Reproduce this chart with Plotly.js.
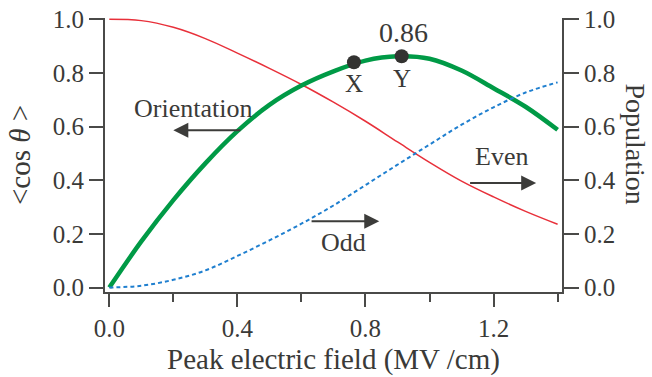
<!DOCTYPE html>
<html>
<head>
<meta charset="utf-8">
<script src="https://cdn.plot.ly/plotly-3.0.1.min.js"></script>
<style>
html,body{margin:0;padding:0;background:#fff;}
#chart{width:652px;height:377px;}
</style>
</head>
<body>
<div id="chart"></div>
<script>
// Peak electric field (MV/cm)
const field = [0.0, 0.1, 0.2, 0.3, 0.4, 0.5, 0.6, 0.7, 0.8, 0.9, 1.0, 1.1, 1.2, 1.3, 1.4];
// <cos theta> (orientation) - red
const orientation = [1.000, 0.995, 0.970, 0.928, 0.874, 0.817, 0.757, 0.691, 0.620, 0.543, 0.467, 0.397, 0.338, 0.284, 0.236];
// green thick curve
const green = [0.000, 0.172, 0.326, 0.463, 0.583, 0.681, 0.753, 0.806, 0.846, 0.862, 0.853, 0.809, 0.743, 0.674, 0.588];
// Odd population - blue dotted
const odd = [0.000, 0.007, 0.029, 0.064, 0.118, 0.176, 0.238, 0.306, 0.382, 0.458, 0.533, 0.607, 0.672, 0.727, 0.765];
// marked points
const pointLabels = ["X", "Y"];
const pointField = [0.764, 0.913];
const pointValue = [0.840, 0.862];
const peakLabel = "0.86";
const xTicks = [0.0, 0.4, 0.8, 1.2];
const yTicks = [0.0, 0.2, 0.4, 0.6, 0.8, 1.0];

const axisColor = '#4a4a48';
const textColor = '#3a3a38';
const serif = '"Liberation Serif", "Times New Roman", serif';

const traces = [
  {x: field, y: orientation, mode: 'lines', line: {color: '#e8303a', width: 1.5, shape: 'spline'}, hoverinfo: 'skip'},
  {x: field, y: green, mode: 'lines', line: {color: '#009a46', width: 4.5, shape: 'spline'}, hoverinfo: 'skip'},
  {x: field, y: odd, mode: 'lines', yaxis: 'y2', line: {color: '#1f7fcf', width: 2, dash: '4px,3px', shape: 'spline'}, hoverinfo: 'skip'},
  {x: pointField, y: pointValue, mode: 'markers', marker: {color: '#333331', size: 14}, hoverinfo: 'skip'}
];

const yr = [-0.0164, 1.0048];
const arrowStyle = {text: '', showarrow: true, arrowhead: 2, arrowsize: 1.5, arrowwidth: 2, arrowcolor: '#3c3c3a', axref: 'x', ayref: 'y'};
const layout = {
  width: 652, height: 377,
  margin: {l: 105, r: 90, t: 18, b: 85},
  paper_bgcolor: '#fff', plot_bgcolor: '#fff',
  showlegend: false,
  font: {family: serif, color: textColor, size: 25},
  xaxis: {
    range: [-0.0134, 1.4137],
    tickvals: xTicks, ticktext: xTicks.map(v => v.toFixed(1)),
    ticks: 'outside', ticklen: 13, tickwidth: 2, tickcolor: axisColor,
    minor: {dtick: 0.2, tick0: 0, ticks: 'outside', ticklen: 8, tickwidth: 2, tickcolor: axisColor, showgrid: false},
    showline: true, linecolor: axisColor, linewidth: 2,
    showgrid: false, zeroline: false,
    tickfont: {size: 25, family: serif, color: textColor},
    title: {text: 'Peak electric field (MV /cm)', font: {size: 29, family: serif, color: textColor}, standoff: 8}
  },
  yaxis: {
    range: yr,
    tickvals: yTicks, ticktext: yTicks.map(v => v.toFixed(1)),
    ticks: 'outside', ticklen: 14, tickwidth: 2, tickcolor: axisColor,
    showline: true, linecolor: axisColor, linewidth: 2,
    showgrid: false, zeroline: false,
    tickfont: {size: 25, family: serif, color: textColor},
    title: {text: '&lt;cos <i>θ</i> &gt;', font: {size: 29, family: serif, color: textColor}, standoff: 14}
  },
  yaxis2: {
    range: yr, overlaying: 'y', side: 'right',
    tickvals: yTicks, ticktext: yTicks.map(v => v.toFixed(1)),
    ticks: 'outside', ticklen: 15, tickwidth: 2, tickcolor: axisColor,
    showline: true, linecolor: axisColor, linewidth: 2,
    showgrid: false, zeroline: false,
    tickfont: {size: 25, family: serif, color: textColor}
  },
  annotations: [
    {xref: 'paper', yref: 'paper', x: 1.161, y: 0.54, text: 'Population', textangle: 90, showarrow: false, borderpad: 0, font: {size: 28, family: serif, color: textColor}, xanchor: 'center', yanchor: 'middle'},
    {x: 0.262, y: 0.668, text: 'Orientation', showarrow: false, font: {size: 26}},
    {x: 0.730, y: 0.169, text: 'Odd', showarrow: false, font: {size: 26}},
    {x: 1.226, y: 0.487, text: 'Even', showarrow: false, font: {size: 26}},
    Object.assign({x: 0.200, y: 0.586, ax: 0.414, ay: 0.586}, arrowStyle),
    Object.assign({x: 0.843, y: 0.247, ax: 0.627, ay: 0.247}, arrowStyle),
    Object.assign({x: 1.333, y: 0.390, ax: 1.122, ay: 0.390}, arrowStyle),
    {x: pointField[0], y: 0.761, text: pointLabels[0], showarrow: false, font: {size: 25}},
    {x: pointField[1] + 0.001, y: 0.780, text: pointLabels[1], showarrow: false, font: {size: 25}},
    {x: 0.918, y: 0.950, text: peakLabel, showarrow: false, font: {size: 28}}
  ]
};

Plotly.newPlot('chart', traces, layout, {staticPlot: true, displayModeBar: false});
</script>
</body>
</html>
